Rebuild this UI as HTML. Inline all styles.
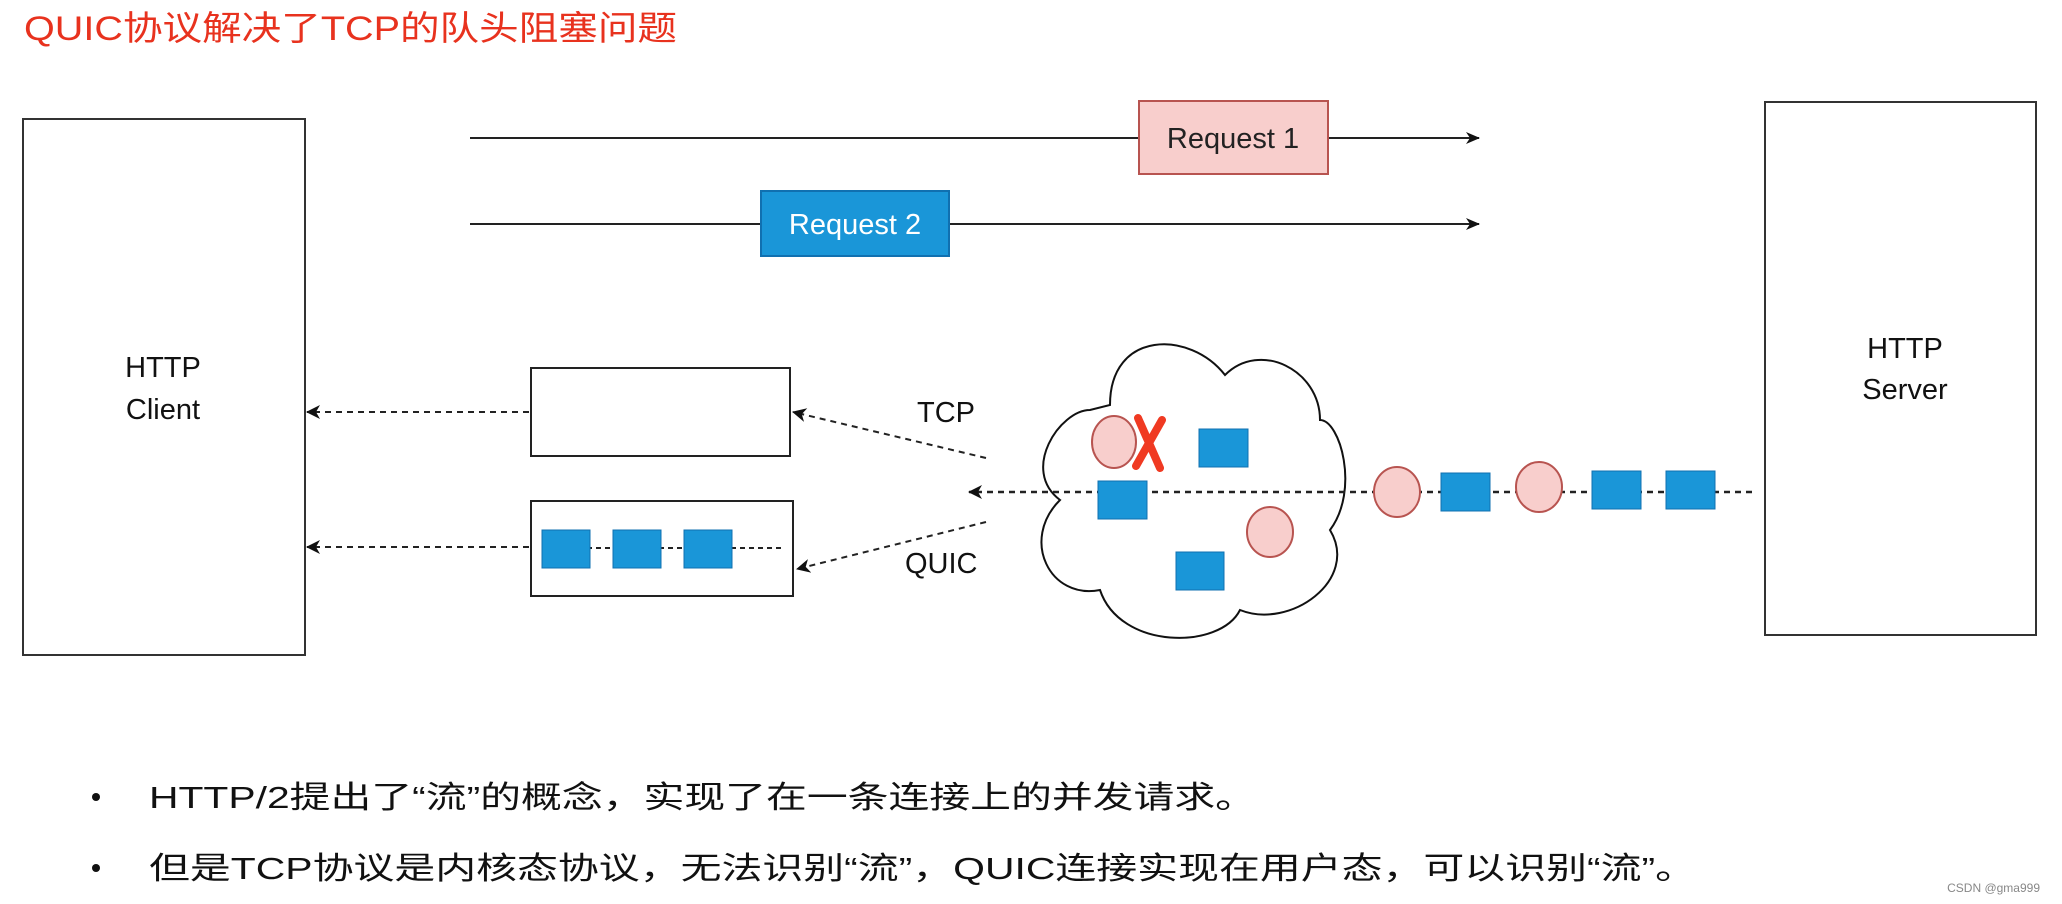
<!DOCTYPE html>
<html><head><meta charset="utf-8"><style>
html,body{margin:0;padding:0;background:#fff;}
svg{display:block;}
text{font-family:"Liberation Sans","Noto Sans CJK SC",sans-serif;}
</style></head><body>
<svg width="2062" height="904" viewBox="0 0 2062 904" xmlns="http://www.w3.org/2000/svg">
<defs>
<marker id="af" markerWidth="14" markerHeight="12" refX="13" refY="6" orient="auto" markerUnits="userSpaceOnUse"><path d="M0,0 L14,6 L0,12 L4,6 Z" fill="#111"/></marker>
<marker id="ao" markerWidth="14" markerHeight="14" refX="13" refY="7" orient="auto" markerUnits="userSpaceOnUse"><path d="M0,0 L14,7 L0,14 L4,7 Z" fill="#111"/></marker>
</defs>
<text x="24" y="40" font-size="34" fill="#e8321e" textLength="653" lengthAdjust="spacingAndGlyphs">QUIC协议解决了TCP的队头阻塞问题</text>

<rect x="23" y="119" width="282" height="536" fill="#fff" stroke="#333" stroke-width="2"/>
<text x="163" y="377" font-size="29" text-anchor="middle" fill="#111">HTTP</text>
<text x="163" y="419" font-size="29" text-anchor="middle" fill="#111">Client</text>

<rect x="1765" y="102" width="271" height="533" fill="#fff" stroke="#333" stroke-width="2"/>
<text x="1905" y="358" font-size="29" text-anchor="middle" fill="#111">HTTP</text>
<text x="1905" y="399" font-size="29" text-anchor="middle" fill="#111">Server</text>

<line x1="470" y1="138" x2="1479" y2="138" stroke="#222" stroke-width="2" marker-end="url(#af)"/>
<rect x="1139" y="101" width="189" height="73" fill="#f8cecc" stroke="#b85450" stroke-width="2"/>
<text x="1233" y="148" font-size="29" text-anchor="middle" fill="#222">Request 1</text>
<line x1="470" y1="224" x2="1479" y2="224" stroke="#222" stroke-width="2" marker-end="url(#af)"/>
<rect x="761" y="191" width="188" height="65" fill="#1a96d8" stroke="#1070b0" stroke-width="2"/>
<text x="855" y="234" font-size="29" text-anchor="middle" fill="#fff">Request 2</text>

<rect x="531" y="368" width="259" height="88" fill="#fff" stroke="#222" stroke-width="2"/>
<rect x="531" y="501" width="262" height="95" fill="#fff" stroke="#222" stroke-width="2"/>
<line x1="542" y1="548" x2="785" y2="548" stroke="#222" stroke-width="2" stroke-dasharray="5,4"/>
<rect x="542" y="530" width="48" height="38" fill="#1a96d8" stroke="#1070b0"/>
<rect x="613" y="530" width="48" height="38" fill="#1a96d8" stroke="#1070b0"/>
<rect x="684" y="530" width="48" height="38" fill="#1a96d8" stroke="#1070b0"/>

<line x1="529" y1="412" x2="307" y2="412" stroke="#222" stroke-width="2" stroke-dasharray="6,5" marker-end="url(#ao)"/>
<line x1="529" y1="547" x2="307" y2="547" stroke="#222" stroke-width="2" stroke-dasharray="6,5" marker-end="url(#ao)"/>
<line x1="986" y1="458" x2="793" y2="412" stroke="#222" stroke-width="2" stroke-dasharray="6,5" marker-end="url(#ao)"/>
<line x1="986" y1="522" x2="797" y2="569" stroke="#222" stroke-width="2" stroke-dasharray="6,5" marker-end="url(#ao)"/>
<text x="917" y="422" font-size="29" fill="#111">TCP</text>
<text x="905" y="573" font-size="29" fill="#111">QUIC</text>

<path d="M1090,410 C1060,410 1020,470 1060,500 C1020,540 1050,600 1100,590 C1120,650 1220,650 1240,610 C1290,630 1360,580 1330,530 C1360,490 1340,420 1320,420 C1320,370 1260,340 1225,375 C1190,330 1110,330 1110,405 Z" fill="#fff" stroke="#111" stroke-width="2"/>
<line x1="1752" y1="492" x2="969" y2="492" stroke="#222" stroke-width="2.5" stroke-dasharray="6,5" marker-end="url(#ao)"/>

<ellipse cx="1114" cy="442" rx="22" ry="26" fill="#f8cecc" stroke="#b85450" stroke-width="2"/>
<path d="M1138,418 L1160,468 M1162,420 L1136,466" stroke="#f03a22" stroke-width="8" stroke-linecap="round"/>
<rect x="1199" y="429" width="49" height="38" fill="#1a96d8" stroke="#1070b0"/>
<rect x="1098" y="481" width="49" height="38" fill="#1a96d8" stroke="#1070b0"/>
<ellipse cx="1270" cy="532" rx="23" ry="25" fill="#f8cecc" stroke="#b85450" stroke-width="2"/>
<rect x="1176" y="552" width="48" height="38" fill="#1a96d8" stroke="#1070b0"/>

<ellipse cx="1397" cy="492" rx="23" ry="25" fill="#f8cecc" stroke="#b85450" stroke-width="2"/>
<rect x="1441" y="473" width="49" height="38" fill="#1a96d8" stroke="#1070b0"/>
<ellipse cx="1539" cy="487" rx="23" ry="25" fill="#f8cecc" stroke="#b85450" stroke-width="2"/>
<rect x="1592" y="471" width="49" height="38" fill="#1a96d8" stroke="#1070b0"/>
<rect x="1666" y="471" width="49" height="38" fill="#1a96d8" stroke="#1070b0"/>

<circle cx="96" cy="797" r="4" fill="#111"/>
<text x="149" y="808" font-size="31" fill="#111" textLength="1107" lengthAdjust="spacingAndGlyphs">HTTP/2提出了“流”的概念，实现了在一条连接上的并发请求。</text>
<circle cx="96" cy="868" r="4" fill="#111"/>
<text x="149" y="879" font-size="31" fill="#111" textLength="1547" lengthAdjust="spacingAndGlyphs">但是TCP协议是内核态协议，无法识别“流”，QUIC连接实现在用户态，可以识别“流”。</text>
<text x="2040" y="892" font-size="12" text-anchor="end" fill="#888">CSDN @gma999</text>
</svg>
</body></html>
